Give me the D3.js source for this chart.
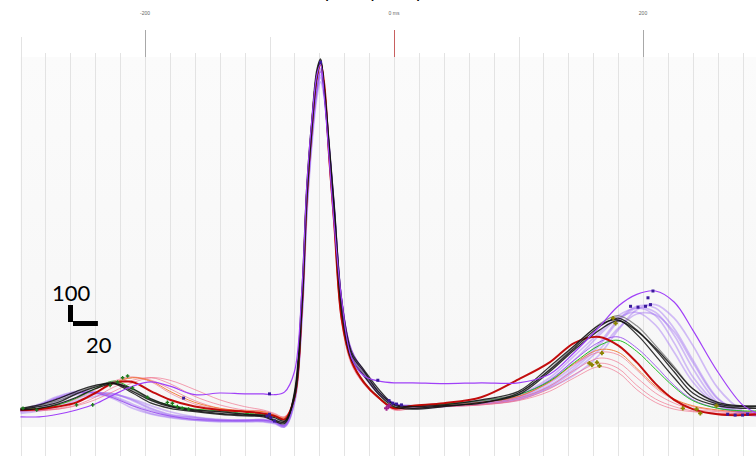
<!DOCTYPE html>
<html><head><meta charset="utf-8">
<script src="https://cdn.jsdelivr.net/npm/d3@7"></script>
<style>body{margin:0;background:#fff;overflow:hidden}</style>
</head><body>
<svg id="c" width="756" height="456"></svg>
<script>
// ---- data (time in ms relative to fiducial, amplitude in µV) ----
const timesMs = [-300,-285,-270,-255,-240,-225,-210,-195,-180,-160,-140,-120,-105,-96,-88,-80,-74,-70,-66,-62,-59,-56,-52,-48,-42,-34,-24,-12,0,15,40,70,100,125,145,165,180,195,210,225,240,260,280,292];

const purple1 = [-5,25,70,100,105,80,35,-5,-35,-55,-65,-65,-65,-75,-100, 45,540,1175,1590,1870,1970,1870,1530,1190,645,340,225,105,40, 20,25,35,60,130,205,325,470,590,620,540,380,130,-5,-35];
const purple2 = [-10,10,55,90,100,95,60,10,-25,-45,-60,-65,-60,-70,-95, 60,575,1205,1615,1895,2000,1880,1540,1175,630,320,200,95,35, 25,30,45,75,160,260,395,530,610,600,480,295,70,-20,-35];
const purple3 = [0,35,80,110,110,75,25,-20,-40,-60,-70,-70,-70,-80,-100, 40,520,1145,1555,1835,1930,1835,1500,1165,635,330,210,100,35, 20,25,40,70,145,245,380,520,600,575,440,245,45,-20,-30];
const purple4 = [-20,-5,20,55,80,90,65,25,-10,-40,-55,-60,-55,-65,-90, 70,600,1235,1635,1910,2010,1895,1530,1165,610,305,200,90,35, 25,30,45,80,175,295,440,540,575,500,340,165,25,-20,-25];
const purple5 = [-5,30,75,105,100,65,10,-25,-45,-60,-65,-65,-65,-75,-95, 55,560,1190,1590,1865,1955,1855,1520,1175,635,325,210,100,40, 10,20,35,65,135,230,355,480,565,560,460,280,65,-10,-30];
const purple6 = [-10,5,35,70,95,95,55,5,-30,-45,-60,-60,-60,-70,-90, 65,590,1225,1615,1895,1990,1870,1530,1170,625,310,205,95,35, 25,35,55,90,190,320,455,555,600,555,395,195,35,-20,-30];

const pink1 = [0,0,10,40,95,155,190,175,125,55,10,-5,-10,-30,-45, 70,600,1245,1660,1955,2035,1905,1470,1090,530,280,160,70,10, 20,25,35,70,140,235,305,280,190,100,40,5,-10,-20,-20];
const pink2 = [-5,-5,5,30,75,135,175,190,155,80,30,0,-5,-25,-40, 60,565,1210,1630,1930,2025,1915,1500,1120,560,300,170,75,5, 10,20,30,60,125,210,275,245,145,65,20,-5,-20,-20,-20];
const pink3 = [5,10,30,65,120,170,195,165,100,35,5,-10,-20,-35,-55, 75,620,1265,1670,1960,2040,1900,1450,1070,510,265,150,65,15, 25,30,45,80,165,270,340,325,235,130,60,20,-5,-10,-10];
const pink4 = [-5,0,5,25,60,110,160,190,175,120,60,20,0,-20,-40, 65,590,1235,1645,1940,2030,1910,1490,1110,550,290,165,70,0, 10,20,30,55,110,190,255,220,120,45,5,-10,-20,-20,-20];
const orange1 = [0,5,20,45,100,160,190,170,110,45,10,-5,-10,-30,-45, 70,600,1245,1660,1955,2035,1905,1470,1090,530,280,160,70,10, 25,30,45,80,165,275,355,340,245,140,65,25,0,-10,-10];
const green1 = [5,10,30,70,125,170,125,60,30,5,-5,-20,-25,-35,-55, 70,600,1245,1660,1955,2035,1905,1480,1100,545,290,165,75,15, 25,35,55,90,170,280,380,410,345,240,135,55,10,-5,-5];
const darkRed = [0,5,20,45,100,160,165,110,60,20,0,-10,-20,-35,-55, 75,610,1260,1665,1960,2040,1915,1480,1095,535,285,160,70,10, 25,40,75,180,280,395,430,380,280,155,60,5,-25,-30,-25];

const black1 = [5,20,45,95,135,160,110,55,20,-5,-20,-30,-35,-60,-70, 90,645,1295,1690,1980,2060,1880,1530,1175,620,325,225,105,30, 10,25,40,100,235,365,490,540,470,355,225,100,35,20,20];
const black2 = [0,10,35,75,125,155,125,65,25,0,-10,-25,-30,-45,-65, 70,590,1245,1645,1955,2045,1895,1560,1205,645,340,235,120,35, 20,30,60,110,255,380,500,530,445,320,190,75,25,10,10];
const black3 = [10,30,65,110,145,155,100,40,10,-10,-25,-35,-40,-65,-80, 105,695,1325,1705,2000,2065,1870,1500,1130,575,295,200,90,20, 5,20,45,90,225,355,470,525,465,365,245,125,45,25,25];
const gray1 = [5,25,55,100,140,165,120,60,25,0,-10,-25,-35,-55,-75, 80,620,1265,1665,1965,2050,1890,1540,1165,610,310,210,100,30, 10,25,55,100,240,375,505,555,495,380,255,125,40,20,10];

const violet2 = [-5,30,70,100,100,70,25,-10,-35,-55,-60,-60,-60,-70,-90, 60,575,1205,1610,1880,1990,1880,1560,1205,655,355,230,105,35, 25,35,55,90,175,295,400,430,365,260,145,60,10,-10,-20];
const violet1 = [-40,-40,-25,0,35,90,140,165,140,90,100,95,95,90,105, 225,705,1325,1705,1970,2035,1845,1470,1090,645,305,200,170,160, 160,155,160,160,210,340,490,610,680,700,635,470,225,30,-20];

// annotation markers [ms, µV]
const greenMarks = [[-298,10],[-287,0],[-255,30],[-242,30],[-228,145],[-222,165],[-218,190],[-214,200],[-210,130],[-198,75],[-182,45],[-178,40],[-174,20],[-170,10],[-165,5]];
const oliveMarks = [[163,280],[165,260],[159,265],[167,335],[157,275],[176,540],[178,510],[232,10],[243,5],[246,-20],[259,25]];
const navyMarks = [[-59,2045],[-102,-35],[-99,-45],[-96,-65],[-100,-25],[-4,55],[-1,40],[2,35],[6,30],[190,610],[196,605],[202,610],[206,620],[208,700],[204,660],[268,-25],[274,-30],[280,-30],[284,-25],[-100,95],[-13,175],[-169,70]];
const magentaMarks = [[-6,10],[-4,25]];

// axis labels
const labelTicks = [-200, 0, 200];
const labelTexts = ['-200', '0 ms', '200'];
const scaleBarAmp = 100;   // µV
const scaleBarTime = 20;   // ms
const titleText = 'Grouped by complex';

// ---- drawing ----
const W = 756, H = 456, plotTop = 57;
const svg = d3.select('#c');
const x = d3.scaleLinear().domain([-300, 300]).range([20.5, 767.5]);
const y = d3.scaleLinear().domain([-100, 2100]).range([427, 53]);

svg.append('rect').attr('width', W).attr('height', H).attr('fill', '#fff');
const defs = svg.append('defs');
const g = defs.append('linearGradient').attr('id', 'bg').attr('x1', 0).attr('y1', 0).attr('x2', 0).attr('y2', 1);
g.append('stop').attr('offset', '0%').attr('stop-color', '#fbfbfb');
g.append('stop').attr('offset', '100%').attr('stop-color', '#f6f6f6');
svg.append('rect').attr('x', x(-300)).attr('y', plotTop).attr('width', W - x(-300)).attr('height', y(-100) - plotTop).attr('fill', 'url(#bg)');

// grid
const gridTicks = d3.range(-300, 301, 20);
const gg = svg.append('g');
gridTicks.forEach(t => {
  const xx = Math.round(x(t)) + 0.5;
  const m200 = t % 200 === 0, m100 = t % 100 === 0;
  gg.append('line').attr('x1', xx).attr('x2', xx)
    .attr('y1', m200 ? plotTop : (m100 ? 37 : 53)).attr('y2', H)
    .attr('stroke', '#e3e3e3').attr('stroke-width', 1);
  if (m200) {
    gg.append('line').attr('x1', xx).attr('x2', xx).attr('y1', 30).attr('y2', plotTop)
      .attr('stroke', t === 0 ? '#c86060' : '#a8a8a8').attr('stroke-width', 1);
  }
});
svg.append('g').selectAll('text').data(labelTicks).join('text')
  .attr('x', d => x(d)).attr('y', 15).attr('text-anchor', 'middle')
  .attr('font-family', 'Liberation Sans, Arial, sans-serif').attr('font-size', 5).attr('fill', '#666')
  .text((d, i) => labelTexts[i]);

// title (cut at top edge, as in the reference)
const title = svg.append('text').attr('x', 0).attr('y', -2)
  .attr('font-family', 'Lato, sans-serif').attr('font-size', 18).attr('fill', '#000').text(titleText);
try {
  const px = title.node().getStartPositionOfChar(4).x;
  title.attr('x', 325 - px);
} catch (e) { title.attr('x', 290); }

// series
const line = d3.line().x((d, i) => x(timesMs[i])).y(d => y(d)).curve(d3.curveCatmullRom.alpha(0.5));
const styles = {
  purple: {stroke: '#9a66f2', width: 1.7, opacity: 0.42},
  pink: {stroke: '#f0607e', width: 1, opacity: 0.6},
  orange: {stroke: '#f07a30', width: 1, opacity: 0.9},
  green: {stroke: '#22c022', width: 1, opacity: 1},
  darkRed: {stroke: '#c00000', width: 2, opacity: 0.95},
  black: {stroke: '#111', width: 1.3, opacity: 0.85},
  gray: {stroke: '#777', width: 1.2, opacity: 0.8},
  violet2: {stroke: '#9a50f0', width: 1, opacity: 0.9},
  violet: {stroke: '#a040f8', width: 1.2, opacity: 1}
};
const series = [
  ['purple', purple1], ['purple', purple2], ['purple', purple3], ['purple', purple4], ['purple', purple5], ['purple', purple6],
  ['pink', pink1], ['pink', pink2], ['pink', pink3], ['pink', pink4],
  ['orange', orange1], ['violet2', violet2], ['green', green1], ['darkRed', darkRed],
  ['gray', gray1], ['black', black1], ['black', black2], ['black', black3],
  ['violet', violet1]
];
svg.append('g').attr('fill', 'none').selectAll('path').data(series).join('path')
  .attr('d', d => line(d[1]))
  .attr('stroke', d => styles[d[0]].stroke)
  .attr('stroke-width', d => styles[d[0]].width)
  .attr('stroke-opacity', d => styles[d[0]].opacity)
  .attr('stroke-linejoin', 'round');

// markers
const plus = s => `M${-s},0H${s}M0,${-s}V${s}`;
svg.append('g').selectAll('path').data(greenMarks).join('path')
  .attr('transform', d => `translate(${x(d[0])},${y(d[1])})`).attr('d', plus(1.8))
  .attr('stroke', '#1d7a1d').attr('stroke-width', 1.4).attr('fill', 'none');
svg.append('g').selectAll('path').data(oliveMarks).join('path')
  .attr('transform', d => `translate(${x(d[0])},${y(d[1])})`).attr('d', plus(2.2))
  .attr('stroke', '#8c8400').attr('stroke-width', 1.8).attr('fill', 'none');
svg.append('g').selectAll('rect').data(navyMarks).join('rect')
  .attr('x', d => x(d[0]) - 1.5).attr('y', d => y(d[1]) - 1.5).attr('width', 3).attr('height', 3)
  .attr('fill', '#3a1a9c');
svg.append('g').selectAll('path').data(magentaMarks).join('path')
  .attr('transform', d => `translate(${x(d[0])},${y(d[1])})`).attr('d', plus(2.5))
  .attr('stroke', '#a0208c').attr('stroke-width', 2).attr('fill', 'none');

// scale bar
const sbX = 68, sbY = 322;
const sbH = y(0) - y(scaleBarAmp), sbW = x(scaleBarTime) - x(0);
svg.append('rect').attr('x', sbX).attr('y', sbY - sbH).attr('width', 5).attr('height', sbH).attr('fill', '#000');
svg.append('rect').attr('x', sbX + 5).attr('y', sbY - 1).attr('width', sbW).attr('height', 5).attr('fill', '#000');
svg.append('text').attr('x', 52).attr('y', 301).attr('font-family', 'Lato, sans-serif').attr('font-size', 22).attr('fill', '#000').text(String(scaleBarAmp));
svg.append('text').attr('x', 86).attr('y', 353).attr('font-family', 'Lato, sans-serif').attr('font-size', 22).attr('fill', '#000').text(String(scaleBarTime));
</script>
</body></html>
